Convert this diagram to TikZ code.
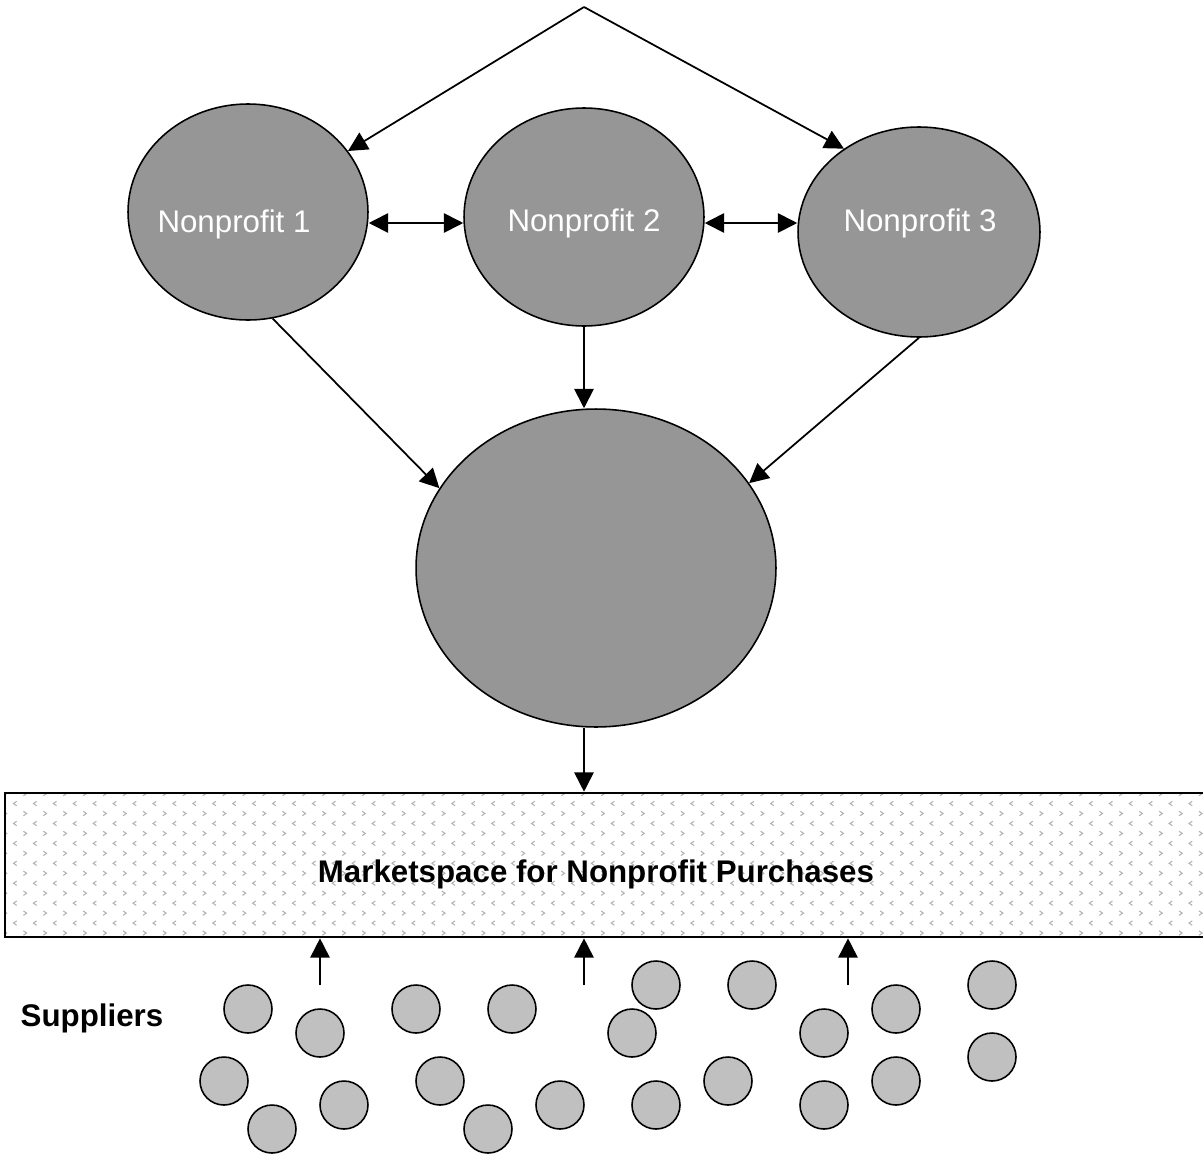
\documentclass[tikz,border=0pt]{standalone}
\usepackage{fontspec}
\setmainfont{Liberation Sans}
\usetikzlibrary{arrows.meta,shapes.geometric,patterns}
\definecolor{npgray}{HTML}{969696}
\definecolor{supgray}{HTML}{C0C0C0}
\pgfdeclarepatternformonly{chevrons}{\pgfqpoint{-1pt}{-1pt}}{\pgfqpoint{12.34pt}{12.34pt}}{\pgfqpoint{11.34pt}{11.34pt}}{
\pgfsetlinewidth{0.6pt}
\pgfpathmoveto{\pgfqpoint{2pt}{3.4pt}}\pgfpathlineto{\pgfqpoint{3.8pt}{2.15pt}}\pgfpathlineto{\pgfqpoint{2pt}{0.9pt}}
\pgfpathmoveto{\pgfqpoint{9.5pt}{9.07pt}}\pgfpathlineto{\pgfqpoint{7.7pt}{7.82pt}}\pgfpathlineto{\pgfqpoint{9.5pt}{6.57pt}}
\pgfusepath{stroke}}
\begin{document}
\begin{tikzpicture}[x=0.02cm,y=-0.02cm,
  font=\fontsize{17.8pt}{21pt}\selectfont,
  np/.style={ellipse, draw, line width=0.9pt, fill=npgray, inner sep=0pt},
  sup/.style={circle, draw, line width=0.9pt, fill=supgray, minimum size=0.96cm, inner sep=0pt},
  arr/.style={line width=1pt, -{Triangle[length=11pt,width=11pt]}},
  darr/.style={line width=1pt, {Triangle[length=11pt,width=11pt]}-{Triangle[length=11pt,width=11pt]}}]
\useasboundingbox (0,0) rectangle (1203,1156);
\node[np, minimum width=4.8cm, minimum height=4.32cm] (np1) at (248,212){};
\node[np, minimum width=4.8cm, minimum height=4.36cm] (np2) at (584,217){};
\node[np, minimum width=4.84cm, minimum height=4.2cm] (np3) at (919,232){};
\node[np, minimum width=7.2cm, minimum height=6.36cm] (hub) at (596,568){};
\node[white, anchor=base] (np1txt) at (234,232){Nonprofit 1};
\node[white, anchor=base] (np2txt) at (584,231){Nonprofit 2};
\node[white, anchor=base] (np3txt) at (920,231){Nonprofit 3};
\coordinate (apex) at (584,7);
\coordinate (row) at (0,223);
\draw[arr](apex) -- (np1);
\draw[arr](apex) -- (np3.132);
\draw[darr](np1.east |- row) -- (np2.west |- row);
\draw[darr](np2.east |- row) -- (np3.west |- row);
\draw[arr](np1.-77) -- (hub.153);
\draw[arr](np2.south) -- (np2.south |- hub.north);
\draw[arr](np3.south) -- (hub.29);

% marketspace
\node[draw, line width=1.5pt, pattern=chevrons, pattern color=gray!60, minimum width=24.2cm, minimum height=2.88cm, inner sep=0pt] (market) at (610,865){};
\node[anchor=base, font=\fontsize{17.8pt}{21pt}\selectfont\bfseries] (markettxt) at (596,882){Marketspace for Nonprofit Purchases};
\draw[arr](hub.south -| np2.south) -- (market.north -| np2.south);

% suppliers
\node[anchor=base, font=\fontsize{17.8pt}{21pt}\selectfont\bfseries] (suptxt) at (92,1026){Suppliers};
\coordinate (s1) at (320,985);
\coordinate (s2) at (584,985);
\coordinate (s3) at (848,985);
\draw[arr](s1) -- (s1 |- market.south);
\draw[arr](s2) -- (s2 |- market.south);
\draw[arr](s3) -- (s3 |- market.south);
\node[sup] (sup1) at (248,1009){};
\node[sup] (sup2) at (320,1033){};
\node[sup] (sup3) at (224,1081){};
\node[sup] (sup4) at (272,1129){};
\node[sup] (sup5) at (344,1105){};
\node[sup] (sup6) at (416,1009){};
\node[sup] (sup7) at (512,1009){};
\node[sup] (sup8) at (440,1081){};
\node[sup] (sup9) at (488,1129){};
\node[sup] (sup10) at (560,1105){};
\node[sup] (sup11) at (656,985){};
\node[sup] (sup12) at (752,985){};
\node[sup] (sup13) at (632,1033){};
\node[sup] (sup14) at (728,1081){};
\node[sup] (sup15) at (656,1105){};
\node[sup] (sup16) at (824,1033){};
\node[sup] (sup17) at (824,1105){};
\node[sup] (sup18) at (896,1009){};
\node[sup] (sup19) at (896,1081){};
\node[sup] (sup20) at (992,985){};
\node[sup] (sup21) at (992,1057){};

\end{tikzpicture}
\end{document}
